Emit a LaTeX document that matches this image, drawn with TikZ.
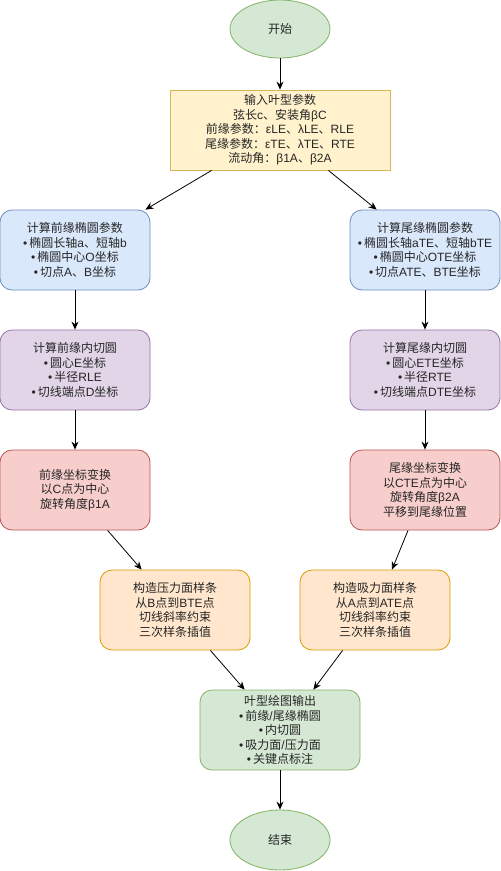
\documentclass[tikz,border=0pt]{standalone}
\usepackage{fontspec}
\setmainfont{Liberation Sans}
\newfontfamily\cjk{Noto Sans CJK SC}
\newfontfamily\latinf{Liberation Sans}
\XeTeXinterchartokenstate=1
\newXeTeXintercharclass\CJKcls
\newcount\cc
\cc="4E00 \loop \XeTeXcharclass\cc=\CJKcls \advance\cc by 1 \ifnum\cc<"A000 \repeat
\cc="3000 \loop \XeTeXcharclass\cc=\CJKcls \advance\cc by 1 \ifnum\cc<"3040 \repeat
\cc="FF00 \loop \XeTeXcharclass\cc=\CJKcls \advance\cc by 1 \ifnum\cc<"FFF0 \repeat
\XeTeXinterchartoks 0 \CJKcls = {\cjk}
\XeTeXinterchartoks 4095 \CJKcls = {\cjk}
\XeTeXinterchartoks \CJKcls 0 = {\latinf}
\XeTeXinterchartoks \CJKcls 4095 = {\latinf}
\usetikzlibrary{shapes.geometric,arrows.meta,calc}
\definecolor{gfill}{HTML}{D5E8D4}\definecolor{gline}{HTML}{82B366}
\definecolor{yfill}{HTML}{FFF2CC}\definecolor{yline}{HTML}{D6B656}
\definecolor{bfill}{HTML}{DAE8FC}\definecolor{bline}{HTML}{6C8EBF}
\definecolor{pfill}{HTML}{E1D5E7}\definecolor{pline}{HTML}{9673A6}
\definecolor{rfill}{HTML}{F8CECC}\definecolor{rline}{HTML}{B85450}
\definecolor{ofill}{HTML}{FFE6CC}\definecolor{oline}{HTML}{D79B00}
\newcommand\bt{\latinf •\,}
\tikzset{
  base/.style={draw, line width=0.8pt, align=center, inner sep=0pt,
    font=\fontsize{12}{14.5}\selectfont, text=black!85},
  term/.style={base, ellipse, fill=gfill, draw=gline, minimum width=100pt, minimum height=58pt},
  inbox/.style={base, rectangle, fill=yfill, draw=yline, minimum width=220pt, minimum height=80pt},
  rbox/.style={base, rectangle, rounded corners=12pt, minimum width=150pt, minimum height=80pt},
  bluebox/.style={rbox, fill=bfill, draw=bline},
  purplebox/.style={rbox, fill=pfill, draw=pline},
  redbox/.style={rbox, fill=rfill, draw=rline},
  orangebox/.style={rbox, fill=ofill, draw=oline},
  greenbox/.style={rbox, fill=gfill, draw=gline, minimum width=160pt},
  arr/.style={-{Stealth[length=8pt,width=7pt]}, line width=0.8pt, black}
}
\begin{document}
\begin{tikzpicture}[x=1pt,y=-1pt]
\useasboundingbox (0,0) rectangle (501,871);
\node[term] (start) at (280,29) {开始};
\node[inbox] (in) at (280,130) {输入叶型参数\\弦长c、安装角βC\\前缘参数：εLE、λLE、RLE\\尾缘参数：εTE、λTE、RTE\\流动角：β1A、β2A};
\node[bluebox] (lb) at (75,250) {计算前缘椭圆参数\\\bt 椭圆长轴a、短轴b\\\bt 椭圆中心O坐标\\\bt 切点A、B坐标};
\node[bluebox] (rb) at (425,250) {计算尾缘椭圆参数\\\bt 椭圆长轴aTE、短轴bTE\\\bt 椭圆中心OTE坐标\\\bt 切点ATE、BTE坐标};
\node[purplebox] (lp) at (75,370) {计算前缘内切圆\\\bt 圆心E坐标\\\bt 半径RLE\\\bt 切线端点D坐标};
\node[purplebox] (rp) at (425,370) {计算尾缘内切圆\\\bt 圆心ETE坐标\\\bt 半径RTE\\\bt 切线端点DTE坐标};
\node[redbox] (lr) at (75,490) {前缘坐标变换\\以C点为中心\\旋转角度β1A};
\node[redbox] (rr) at (425,490) {尾缘坐标变换\\以CTE点为中心\\旋转角度β2A\\平移到尾缘位置};
\node[orangebox] (lo) at (175,610) {构造压力面样条\\从B点到BTE点\\切线斜率约束\\三次样条插值};
\node[orangebox] (ro) at (375,610) {构造吸力面样条\\从A点到ATE点\\切线斜率约束\\三次样条插值};
\node[greenbox] (out) at (280,730) {叶型绘图输出\\\bt 前缘/尾缘椭圆\\\bt 内切圆\\\bt 吸力面/压力面\\\bt 关键点标注};
\node[term, minimum height=60pt] (end) at (280,840) {结束};
\draw[arr] (start) -- (in);
\draw[arr] ([xshift=42pt]in.south west) -- ([xshift=-5pt]lb.north east);
\draw[arr] ([xshift=-62pt]in.south east) -- ([xshift=27pt]rb.north west);
\draw[arr] (lb) -- (lp);
\draw[arr] (rb) -- (rp);
\draw[arr] (lp) -- (lr);
\draw[arr] (rp) -- (rr);
\draw[arr] ([xshift=108pt]lr.south west) -- ([xshift=42pt]lo.north west);
\draw[arr] ([xshift=-17pt]rr.south) -- ([xshift=17pt]ro.north);
\draw[arr] ([xshift=-40pt]lo.south east) -- ([xshift=45pt]out.north west);
\draw[arr] ([xshift=43pt]ro.south west) -- ([xshift=-47pt]out.north east);
\draw[arr] (out) -- (end);
\end{tikzpicture}
\end{document}
